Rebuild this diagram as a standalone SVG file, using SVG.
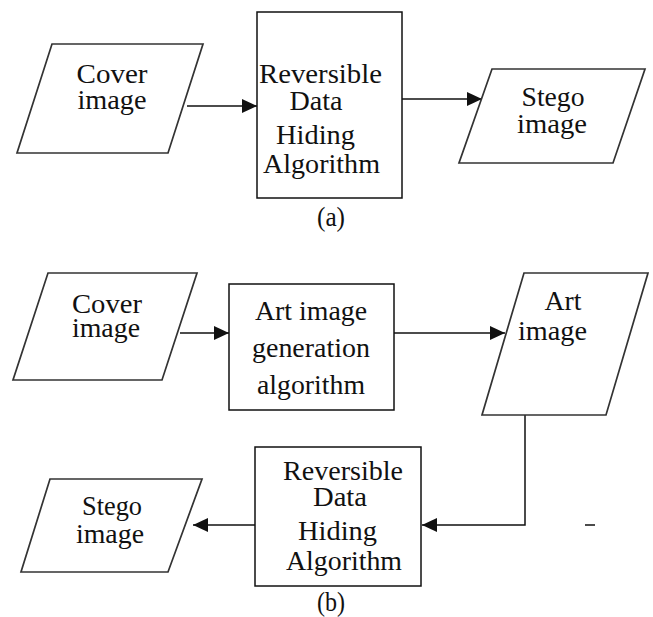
<svg xmlns="http://www.w3.org/2000/svg" width="653" height="617" viewBox="0 0 653 617">
<style>
.para{fill:#fff;stroke:#333;stroke-width:1.7}
.box{fill:#fff;stroke:#111;stroke-width:1.5}
.conn{fill:none;stroke:#111;stroke-width:1.5}
</style>
<defs>
<marker id="arr" markerUnits="userSpaceOnUse" markerWidth="15" markerHeight="14" refX="15" refY="7" orient="auto">
<path d="M0,0 L15,7 L0,14 z" fill="#111"/>
</marker>
</defs>
<rect width="653" height="617" fill="#fff"/>
<g id="connectors">
<path class="conn" d="M187,106 H257" marker-end="url(#arr)"/>
<path class="conn" d="M402,99 H482" marker-end="url(#arr)"/>
<path class="conn" d="M180,333 H229" marker-end="url(#arr)"/>
<path class="conn" d="M394,333 H505" marker-end="url(#arr)"/>
<path class="conn" d="M525,415 V525 H422" marker-end="url(#arr)"/>
<path class="conn" d="M255,525 H193" marker-end="url(#arr)"/>
</g>
<g id="a-cover">
<polygon class="para" points="52,44 203,44 168,153 17,153"/>
<text x="112" y="83" font-family="Liberation Serif" font-size="27" fill="#111" text-anchor="middle" textLength="71" lengthAdjust="spacingAndGlyphs">Cover</text>
<text x="112" y="109" font-family="Liberation Serif" font-size="27" fill="#111" text-anchor="middle" textLength="69" lengthAdjust="spacingAndGlyphs">image</text>
</g>
<g id="a-rdh">
<rect class="box" x="257" y="12" width="145" height="186"/>
<text x="320.5" y="83" font-family="Liberation Serif" font-size="27" fill="#111" text-anchor="middle" textLength="123" lengthAdjust="spacingAndGlyphs">Reversible</text>
<text x="316" y="110" font-family="Liberation Serif" font-size="27" fill="#111" text-anchor="middle" textLength="53" lengthAdjust="spacingAndGlyphs">Data</text>
<text x="315.5" y="144" font-family="Liberation Serif" font-size="27" fill="#111" text-anchor="middle" textLength="79" lengthAdjust="spacingAndGlyphs">Hiding</text>
<text x="321.5" y="173" font-family="Liberation Serif" font-size="27" fill="#111" text-anchor="middle" textLength="117" lengthAdjust="spacingAndGlyphs">Algorithm</text>
</g>
<g id="a-stego">
<polygon class="para" points="492,69 645,69 613,163 459,163"/>
<text x="553" y="106" font-family="Liberation Serif" font-size="27" fill="#111" text-anchor="middle" textLength="63" lengthAdjust="spacingAndGlyphs">Stego</text>
<text x="552" y="133" font-family="Liberation Serif" font-size="27" fill="#111" text-anchor="middle" textLength="70" lengthAdjust="spacingAndGlyphs">image</text>
</g>
<g id="label-a">
<text x="331" y="226" font-family="Liberation Serif" font-size="27" fill="#111" text-anchor="middle" textLength="28" lengthAdjust="spacingAndGlyphs">(a)</text>
</g>
<g id="b-cover">
<polygon class="para" points="48,273 197,273 162,380 13,380"/>
<text x="107" y="313" font-family="Liberation Serif" font-size="27" fill="#111" text-anchor="middle" textLength="70" lengthAdjust="spacingAndGlyphs">Cover</text>
<text x="106" y="337" font-family="Liberation Serif" font-size="27" fill="#111" text-anchor="middle" textLength="68" lengthAdjust="spacingAndGlyphs">image</text>
</g>
<g id="b-artgen">
<rect class="box" x="229" y="284" width="165" height="126"/>
<text x="311" y="320" font-family="Liberation Serif" font-size="27" fill="#111" text-anchor="middle" textLength="112" lengthAdjust="spacingAndGlyphs">Art image</text>
<text x="311" y="357" font-family="Liberation Serif" font-size="27" fill="#111" text-anchor="middle" textLength="118" lengthAdjust="spacingAndGlyphs">generation</text>
<text x="311" y="394" font-family="Liberation Serif" font-size="27" fill="#111" text-anchor="middle" textLength="108" lengthAdjust="spacingAndGlyphs">algorithm</text>
</g>
<g id="b-art">
<polygon class="para" points="524,273 648,273 606,415 482,415"/>
<text x="563" y="310" font-family="Liberation Serif" font-size="27" fill="#111" text-anchor="middle" textLength="37" lengthAdjust="spacingAndGlyphs">Art</text>
<text x="552.5" y="340" font-family="Liberation Serif" font-size="27" fill="#111" text-anchor="middle" textLength="69" lengthAdjust="spacingAndGlyphs">image</text>
</g>
<g id="b-rdh">
<rect class="box" x="255" y="447" width="166" height="139"/>
<text x="343" y="480" font-family="Liberation Serif" font-size="27" fill="#111" text-anchor="middle" textLength="120" lengthAdjust="spacingAndGlyphs">Reversible</text>
<text x="340" y="506" font-family="Liberation Serif" font-size="27" fill="#111" text-anchor="middle" textLength="54" lengthAdjust="spacingAndGlyphs">Data</text>
<text x="337.5" y="540" font-family="Liberation Serif" font-size="27" fill="#111" text-anchor="middle" textLength="79" lengthAdjust="spacingAndGlyphs">Hiding</text>
<text x="344" y="570" font-family="Liberation Serif" font-size="27" fill="#111" text-anchor="middle" textLength="116" lengthAdjust="spacingAndGlyphs">Algorithm</text>
</g>
<g id="b-stego">
<polygon class="para" points="50,479 202,479 168,572 21,572"/>
<text x="112" y="515" font-family="Liberation Serif" font-size="27" fill="#111" text-anchor="middle" textLength="60" lengthAdjust="spacingAndGlyphs">Stego</text>
<text x="110" y="543" font-family="Liberation Serif" font-size="27" fill="#111" text-anchor="middle" textLength="68" lengthAdjust="spacingAndGlyphs">image</text>
</g>
<line x1="585" y1="525" x2="595" y2="525" stroke="#111" stroke-width="1.5"/>
<g id="label-b">
<text x="331" y="611" font-family="Liberation Serif" font-size="27" fill="#111" text-anchor="middle" textLength="28" lengthAdjust="spacingAndGlyphs">(b)</text>
</g>
</svg>
